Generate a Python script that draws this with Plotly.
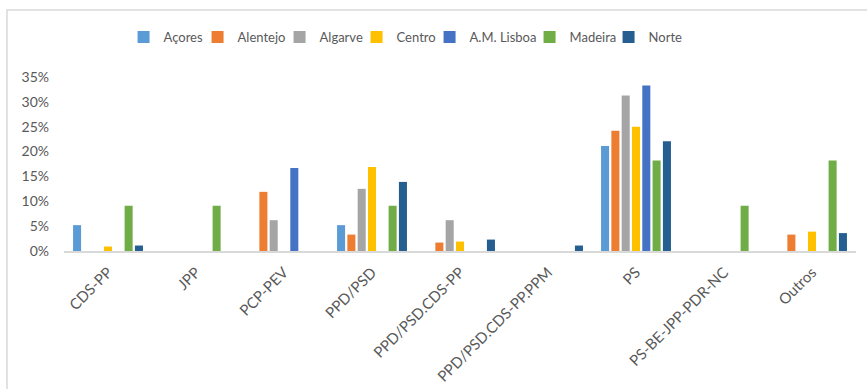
import plotly.graph_objects as go

categories = ["CDS-PP", "JPP", "PCP-PEV", "PPD/PSD", "PPD/PSD.CDS-PP",
              "PPD/PSD.CDS-PP.PPM", "PS", "PS-BE-JPP-PDR-NC", "Outros"]

acores   = [5.2, 0, 0, 5.2, 0, 0, 21.1, 0, 0]
alentejo = [0, 0, 11.9, 3.3, 1.7, 0, 24.2, 0, 3.3]
algarve  = [0, 0, 6.2, 12.5, 6.2, 0, 31.3, 0, 0]
centro   = [0.9, 0, 0, 16.9, 1.9, 0, 25.0, 0, 3.9]
lisboa   = [0, 0, 16.7, 0, 0, 0, 33.3, 0, 0]
madeira  = [9.1, 9.1, 0, 9.1, 0, 0, 18.2, 9.1, 18.2]
norte    = [1.1, 0, 0, 13.9, 2.3, 1.1, 22.1, 0, 3.6]

series = [
    ("Açores", acores, "#5B9BD5"),
    ("Alentejo", alentejo, "#ED7D31"),
    ("Algarve", algarve, "#A5A5A5"),
    ("Centro", centro, "#FFC000"),
    ("A.M. Lisboa", lisboa, "#4472C4"),
    ("Madeira", madeira, "#70AD47"),
    ("Norte", norte, "#255E91"),
]
# legend entry widths (px), slightly narrower than the text to tighten spacing
legend_widths = [29, 37, 32, 28, 55, 34, 32]

y_ticks = [0, 5, 10, 15, 20, 25, 30, 35]
y_labels = ["0%", "5%", "10%", "15%", "20%", "25%", "30%", "35%"]

fig = go.Figure()
for (name, vals, color), lw in zip(series, legend_widths):
    fig.add_trace(go.Bar(
        x=categories, y=vals, name=name, legendwidth=lw,
        marker=dict(color=color, line=dict(width=0)),
    ))

FONT = "Lato, Open Sans, sans-serif"
TXT = "#595959"

fig.update_layout(
    width=867, height=389,
    margin=dict(l=64, r=11, t=77, b=138, autoexpand=False),
    paper_bgcolor="white", plot_bgcolor="white",
    barmode="group", bargap=0.18, bargroupgap=0.22,
    font=dict(family=FONT, size=13, color=TXT),
    showlegend=True,
    legend=dict(orientation="h", x=0.43, xanchor="center", y=1.23, yanchor="middle",
                font=dict(family=FONT, size=13, color=TXT),
                itemwidth=30, traceorder="normal"),
    xaxis=dict(tickangle=-45, showline=True, linecolor="#D9D9D9", linewidth=1.5,
               ticks="", tickfont=dict(size=15, color=TXT), showgrid=False,
               ticklabelstandoff=5, automargin=False),
    yaxis=dict(range=[0, 35], tickvals=y_ticks, ticktext=y_labels, showgrid=False,
               zeroline=False, showline=False, ticks="", automargin=False,
               tickfont=dict(size=14, color=TXT), ticklabelstandoff=14),
    shapes=[dict(type="rect", xref="paper", yref="paper",
                 x0=-0.072, x1=1.2, y0=-1.5, y1=1.385,
                 line=dict(color="#D9D9D9", width=1.5), fillcolor="rgba(0,0,0,0)",
                 layer="below")],
)

fig.write_html("out.html")
